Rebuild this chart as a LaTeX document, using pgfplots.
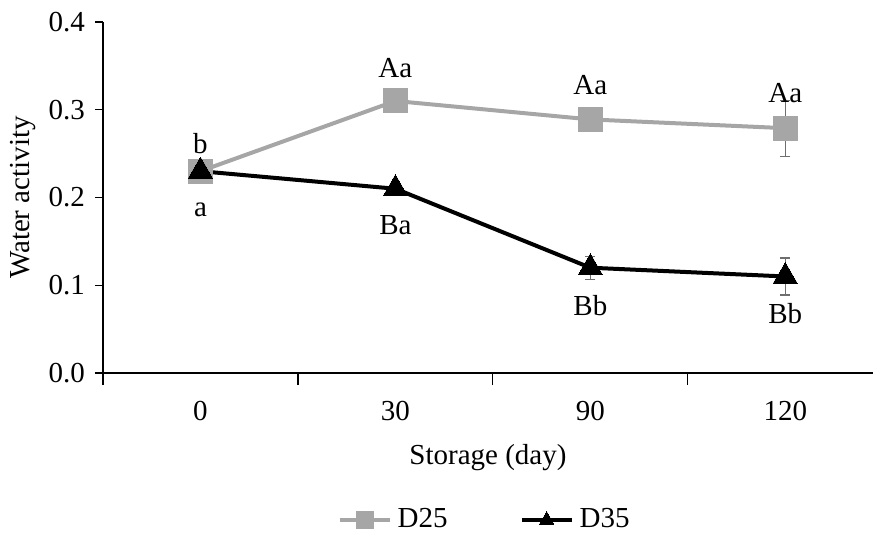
\documentclass[border=0pt]{standalone}
\usepackage{fontspec}
\setmainfont{Liberation Serif}
\usepackage{pgfplots}
\pgfplotsset{compat=1.18}
\definecolor{lgray}{RGB}{166,166,166}
\definecolor{egray}{RGB}{110,110,110}
\newcommand{\fs}{\fontsize{14.5}{16}\selectfont}
\begin{document}
\fs
\begin{tikzpicture}
\begin{axis}[
  scale only axis,
  width=385pt, height=175.5pt,
  xmin=-0.5, xmax=3.45,
  ymin=0, ymax=0.4,
  axis x line*=bottom, axis y line*=left,
  axis line style={line width=0.6pt},
  xtick={0,1,2,3},
  xticklabels={0,30,90,120},
  major x tick style={draw=none},
  minor xtick={-0.5,0.5,1.5,2.5},
  minor tick length=6pt,
  ytick={0,0.1,0.2,0.3,0.4},
  major tick length=4pt,
  tick align=outside,
  tick style={black, line width=0.6pt},
  yticklabel style={/pgf/number format/fixed, /pgf/number format/fixed zerofill, /pgf/number format/precision=1},
  /pgf/number format/assume math mode=true,
  ticklabel style={font=\fs},
  xticklabel style={yshift=-5pt},
  xlabel={Storage (day)},
  ylabel={Water activity},
  xlabel style={yshift=-2pt},
  ylabel style={yshift=-3.5pt},
  label style={font=\fs},
  legend style={draw=none, at={(0.497,-0.419)}, anchor=center, legend columns=2,
    font=\fs, inner xsep=0pt, /tikz/every even column/.append style={column sep=34pt},
    /tikz/every odd column/.append style={column sep=1pt}},
  legend image code/.code={
    \draw[mark repeat=2,mark phase=2, mark size=4.2pt] plot coordinates {(0pt,0pt) (12.5pt,0pt) (25pt,0pt)};
  },
  clip=false,
]
\addplot[lgray, line width=2pt, mark=square*, mark size=6pt, mark options={solid, fill=lgray, draw=lgray, line width=0pt},
  error bars/.cd, y dir=both, y explicit, error mark options={rotate=90, mark size=2.5pt, egray, line width=0.6pt}, error bar style={egray, line width=0.6pt}]
  coordinates {(0,0.23) +- (0,0.003) (1,0.31) +- (0,0.003) (2,0.289) +- (0,0.004) (3,0.279) +- (0,0.032)};
\addlegendentry{D25}
\addplot[black, line width=2pt, mark=triangle*, mark size=7pt, mark options={solid, fill=black, line width=0pt},
  error bars/.cd, y dir=both, y explicit, error mark options={rotate=90, mark size=2.5pt, egray, line width=0.6pt}, error bar style={egray, line width=0.6pt}]
  coordinates {(0,0.23) +- (0,0.003) (1,0.21) +- (0,0.003) (2,0.12) +- (0,0.013) (3,0.11) +- (0,0.021)};
\addlegendentry{D35}
\node at (axis cs:0,0.261) {b};
\node at (axis cs:0,0.186) {a};
\node at (axis cs:1,0.348) {Aa};
\node at (axis cs:2,0.328) {Aa};
\node at (axis cs:3,0.319) {Aa};
\node at (axis cs:1,0.169) {Ba};
\node at (axis cs:2,0.077) {Bb};
\node at (axis cs:3,0.068) {Bb};
\end{axis}
\pgfresetboundingbox
\useasboundingbox (current axis.south west) ++(-51.5pt,-79.5pt) rectangle ++(436.5pt,266pt);
\end{tikzpicture}
\end{document}
